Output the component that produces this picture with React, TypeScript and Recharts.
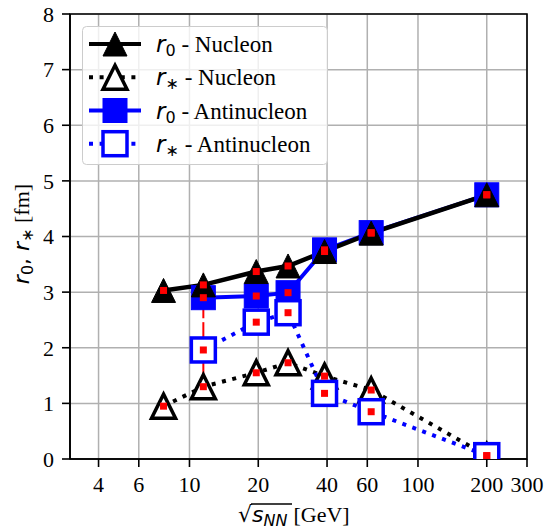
import React from "react";
import { ComposedChart, Line, XAxis, YAxis, CartesianGrid, ErrorBar, ReferenceArea } from "recharts";

// sqrt(s_NN) in GeV
const energies = [7.7, 11.5, 19.6, 27, 39, 62.4, 200];
const r0Nucleon = [3.03, 3.13, 3.37, 3.47, 3.73, 4.06, 4.75];
const rStarNucleon = [0.95, 1.3, 1.55, 1.73, 1.49, 1.24, 0.06];
const r0Anti = [null, 2.9, 2.93, 2.99, 3.76, 4.07, 4.75];
const rStarAnti = [null, 1.96, 2.46, 2.63, 1.18, 0.85, 0.06];
const r0NucleonErr = [0.04, 0.04, 0.04, 0.04, 0.04, 0.04, 0.04];
const rStarNucleonErr = [0.04, 0.04, 0.04, 0.04, 0.04, 0.04, 0.04];
const r0AntiErr = [null, [0.37, 0.3], 0.2, 0.2, 0.05, 0.05, 0.05];
const rStarAntiErr = [null, [0.68, 0.5], 0.19, 0.17, 0.05, 0.05, 0.05];

const majorTicks = [4, 6, 10, 20, 40, 60, 100, 200, 300];
const minorTicks = [3, 5, 7, 8, 9, 30, 50, 70, 80, 90];
const yTicks = [0, 1, 2, 3, 4, 5, 6, 7, 8];

const rows = energies.map((x, i) => ({
  x,
  r0N: r0Nucleon[i],
  rsN: rStarNucleon[i],
  r0A: r0Anti[i],
  rsA: rStarAnti[i],
  r0NErr: r0NucleonErr[i],
  rsNErr: rStarNucleonErr[i],
  r0AErr: r0AntiErr[i],
  rsAErr: rStarAntiErr[i],
}));

const BLUE = "#0000ff";
const SERIF = "Liberation Serif";
const SANS = "DejaVu Sans";
const M = 12; // half marker size

const triPath = (cx: number, cy: number) =>
  `M${cx},${cy - M} L${cx + M},${cy + M} L${cx - M},${cy + M} Z`;

const makeDot = (kind: string) => (p: any) => {
  const { cx, cy, index } = p;
  if (cx == null || cy == null || p.value == null) return <g key={index} />;
  if (kind === "triFilled")
    return <path key={index} d={triPath(cx, cy)} fill="#000" stroke="#000" strokeWidth={1} />;
  if (kind === "triOpen")
    return <path key={index} d={triPath(cx, cy)} fill="#fff" stroke="#000" strokeWidth={3.5} strokeLinejoin="miter" />;
  if (kind === "sqFilled")
    return <rect key={index} x={cx - M} y={cy - M} width={2 * M} height={2 * M} fill={BLUE} stroke={BLUE} strokeWidth={1} />;
  if (kind === "sqOpen")
    return <rect key={index} x={cx - M} y={cy - M} width={2 * M} height={2 * M} fill="#fff" stroke={BLUE} strokeWidth={3.5} />;
  return <rect key={index} x={cx - 3.5} y={cy - 3.5} width={7} height={7} fill="#ff0000" />;
};

const legendItems = [
  { sub: "0", name: "Nucleon", color: "#000", dotted: false, marker: "triFilled" },
  { sub: "\u2217", name: "Nucleon", color: "#000", dotted: true, marker: "triOpen" },
  { sub: "0", name: "Antinucleon", color: BLUE, dotted: false, marker: "sqFilled" },
  { sub: "\u2217", name: "Antinucleon", color: BLUE, dotted: true, marker: "sqOpen" },
];

// renders tick labels in the serif face
const SerifTick = (anchor: string) => (p: any) => (
  <text
    x={p.x}
    y={p.y}
    textAnchor={anchor}
    dy={anchor === "middle" ? "0.71em" : "0.355em"}
    fontFamily={SERIF}
    fontSize={22}
    fill="#000"
  >
    {p.payload.value}
  </text>
);

function Overlay() {
  const rowY = [44, 77.3, 110.5, 143.7];
  return (
    <svg width={545} height={531} style={{ position: "absolute", left: 0, top: 0, pointerEvents: "none" }}>
      <rect x={82.5} y={26.5} width={245} height={138} rx={4} fill="#fff" fillOpacity={0.8} stroke="#cccccc" strokeWidth={1} />
      {legendItems.map((it, i) => {
        const y = rowY[i];
        const dot = makeDot(it.marker);
        return (
          <g key={i}>
            <line
              x1={89}
              x2={141}
              y1={y}
              y2={y}
              stroke={it.color}
              strokeWidth={4}
              strokeDasharray={it.dotted ? "4 6.6" : undefined}
            />
            {dot({ cx: 115, cy: y, index: i, value: 1 })}
            <text x={156} y={y + 8} fontSize={23} fill="#000">
              <tspan fontFamily={SANS} fontStyle="italic">r</tspan>
              <tspan fontFamily={SANS} fontSize={16} dy={4}>{it.sub}</tspan>
              <tspan fontFamily={SERIF} dy={-4}>{" - " + it.name}</tspan>
            </text>
          </g>
        );
      })}
      {/* x axis title */}
      <text x={238} y={522} fontSize={22} fill="#000">
        <tspan fontFamily={SANS}>{"\u221A"}</tspan>
        <tspan fontFamily={SANS} fontStyle="italic">s</tspan>
        <tspan fontFamily={SANS} fontStyle="italic" fontSize={16} dy={4}>NN</tspan>
        <tspan fontFamily={SERIF} dy={-4} dx={6}>[GeV]</tspan>
      </text>
      <line x1={251} x2={292} y1={504} y2={504} stroke="#000" strokeWidth={1.3} />
      {/* y axis title */}
      <text transform="translate(29,234) rotate(-90)" textAnchor="middle" fontSize={22} fill="#000">
        <tspan fontFamily={SANS} fontStyle="italic">r</tspan>
        <tspan fontFamily={SANS} fontSize={16} dy={4}>0</tspan>
        <tspan fontFamily={SANS} dy={-4}>, </tspan>
        <tspan fontFamily={SANS} fontStyle="italic">r</tspan>
        <tspan fontFamily={SANS} fontSize={16} dy={4}>{"\u2217"}</tspan>
        <tspan fontFamily={SERIF} dy={-4}> [fm]</tspan>
      </text>
    </svg>
  );
}

export default function App() {
  return (
    <div style={{ position: "absolute", left: 0, top: 0, width: 545, height: 531, background: "#fff", fontFamily: SERIF }}>
      <ComposedChart width={545} height={531} data={rows} margin={{ top: 14, right: 18, bottom: 0, left: 0 }}>
        <XAxis
          xAxisId="minor"
          type="number"
          dataKey="x"
          scale="log"
          domain={[3, 300]}
          allowDataOverflow
          ticks={minorTicks}
          interval={0}
          height={0}
          axisLine={false}
          tickSize={4.5}
          tickLine={{ stroke: "#000", strokeWidth: 1.3 }}
          tick={() => <g />}
        />
        <XAxis
          type="number"
          dataKey="x"
          scale="log"
          domain={[3, 300]}
          allowDataOverflow
          ticks={majorTicks}
          interval={0}
          height={72}
          tickSize={8}
          tickMargin={9}
          axisLine={{ stroke: "#000", strokeWidth: 1.6 }}
          tickLine={{ stroke: "#000", strokeWidth: 1.6 }}
          tick={SerifTick("middle")}
        />
        <YAxis
          type="number"
          domain={[0, 8]}
          allowDataOverflow
          ticks={yTicks}
          interval={0}
          width={70}
          tickSize={8}
          tickMargin={8}
          axisLine={{ stroke: "#000", strokeWidth: 1.6 }}
          tickLine={{ stroke: "#000", strokeWidth: 1.6 }}
          tick={SerifTick("end")}
        />
        <CartesianGrid stroke="#b0b0b0" strokeWidth={1.5} />
        <Line dataKey="r0A" type="linear" stroke={BLUE} strokeWidth={4} dot={makeDot("sqFilled")} isAnimationActive={false} />
        <Line dataKey="r0N" type="linear" stroke="#000" strokeWidth={4.5} dot={makeDot("triFilled")} isAnimationActive={false} />
        <Line dataKey="rsN" type="linear" stroke="#000" strokeWidth={4} strokeDasharray="4 6.6" dot={makeDot("triOpen")} isAnimationActive={false} />
        <Line dataKey="rsA" type="linear" stroke={BLUE} strokeWidth={4} strokeDasharray="4 6.6" dot={makeDot("sqOpen")} isAnimationActive={false} />
        {[
          ["r0N", "r0NErr"],
          ["rsN", "rsNErr"],
          ["r0A", "r0AErr"],
          ["rsA", "rsAErr"],
        ].map(([k, e]) => (
          <Line key={k} dataKey={k} type="linear" stroke="none" strokeWidth={0} dot={makeDot("red")} isAnimationActive={false}>
            <ErrorBar dataKey={e} direction="y" width={0} stroke="#ff0000" strokeWidth={2} isAnimationActive={false} />
          </Line>
        ))}
        <ReferenceArea x1={3} x2={300} y1={0} y2={8} fill="none" stroke="#000" strokeWidth={1.6} ifOverflow="visible" />
      </ComposedChart>
      <Overlay />
    </div>
  );
}
